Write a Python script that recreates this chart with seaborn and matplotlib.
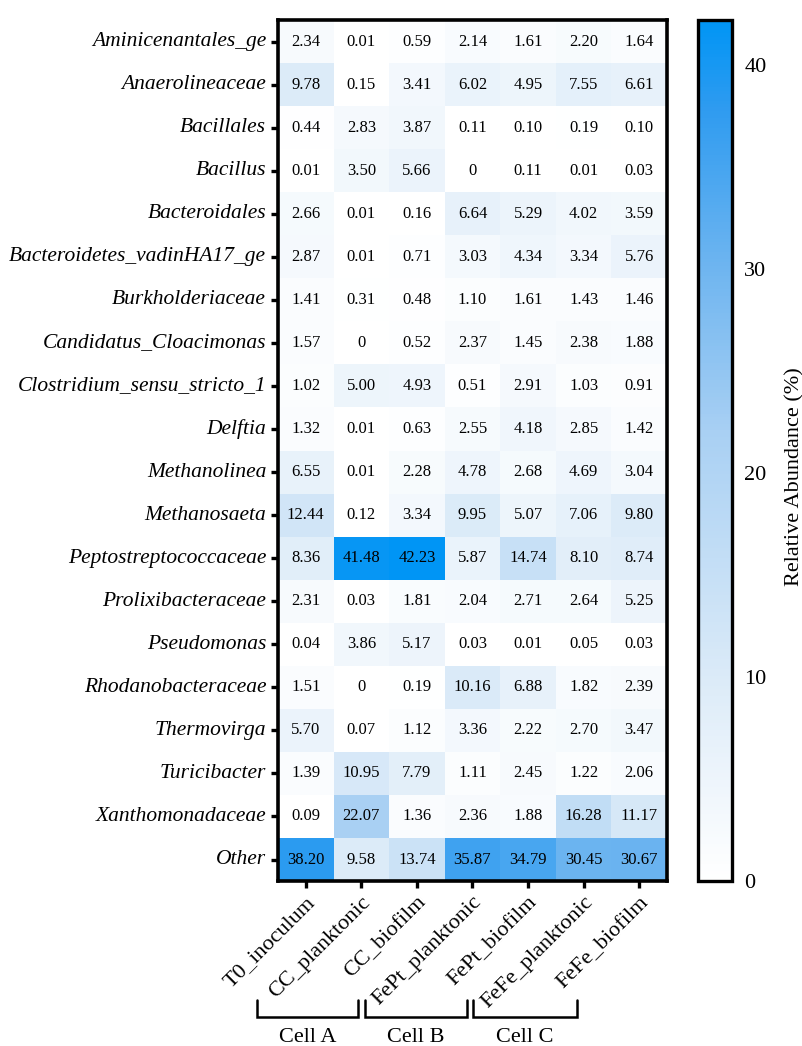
import numpy as np
import pandas as pd
import matplotlib
matplotlib.use("Agg")
import matplotlib.pyplot as plt
import matplotlib.transforms as mtransforms
from matplotlib.colors import LinearSegmentedColormap
import seaborn as sns

taxa = [
    "Aminicenantales_ge", "Anaerolineaceae", "Bacillales", "Bacillus",
    "Bacteroidales", "Bacteroidetes_vadinHA17_ge", "Burkholderiaceae",
    "Candidatus_Cloacimonas", "Clostridium_sensu_stricto_1", "Delftia",
    "Methanolinea", "Methanosaeta", "Peptostreptococcaceae",
    "Prolixibacteraceae", "Pseudomonas", "Rhodanobacteraceae",
    "Thermovirga", "Turicibacter", "Xanthomonadaceae", "Other",
]
samples = [
    "T0_inoculum", "CC_planktonic", "CC_biofilm", "FePt_planktonic",
    "FePt_biofilm", "FeFe_planktonic", "FeFe_biofilm",
]

t0_inoculum = [2.34, 9.78, 0.44, 0.01, 2.66, 2.87, 1.41, 1.57, 1.02, 1.32,
               6.55, 12.44, 8.36, 2.31, 0.04, 1.51, 5.70, 1.39, 0.09, 38.20]
cc_planktonic = [0.01, 0.15, 2.83, 3.50, 0.01, 0.01, 0.31, 0, 5.00, 0.01,
                 0.01, 0.12, 41.48, 0.03, 3.86, 0, 0.07, 10.95, 22.07, 9.58]
cc_biofilm = [0.59, 3.41, 3.87, 5.66, 0.16, 0.71, 0.48, 0.52, 4.93, 0.63,
              2.28, 3.34, 42.23, 1.81, 5.17, 0.19, 1.12, 7.79, 1.36, 13.74]
fept_planktonic = [2.14, 6.02, 0.11, 0, 6.64, 3.03, 1.10, 2.37, 0.51, 2.55,
                   4.78, 9.95, 5.87, 2.04, 0.03, 10.16, 3.36, 1.11, 2.36, 35.87]
fept_biofilm = [1.61, 4.95, 0.10, 0.11, 5.29, 4.34, 1.61, 1.45, 2.91, 4.18,
                2.68, 5.07, 14.74, 2.71, 0.01, 6.88, 2.22, 2.45, 1.88, 34.79]
fefe_planktonic = [2.20, 7.55, 0.19, 0.01, 4.02, 3.34, 1.43, 2.38, 1.03, 2.85,
                   4.69, 7.06, 8.10, 2.64, 0.05, 1.82, 2.70, 1.22, 16.28, 30.45]
fefe_biofilm = [1.64, 6.61, 0.10, 0.03, 3.59, 5.76, 1.46, 1.88, 0.91, 1.42,
                3.04, 9.80, 8.74, 5.25, 0.03, 2.39, 3.47, 2.06, 11.17, 30.67]

cell_groups = ["Cell A", "Cell B", "Cell C"]

df = pd.DataFrame(
    np.column_stack([t0_inoculum, cc_planktonic, cc_biofilm, fept_planktonic,
                     fept_biofilm, fefe_planktonic, fefe_biofilm]),
    index=taxa, columns=samples,
)
labels = df.map(lambda v: "0" if v == 0 else f"{v:.2f}")

sns.set_theme(style="white")
plt.rcParams["font.family"] = ["Liberation Serif", "DejaVu Serif"]
plt.rcParams["text.color"] = "black"
plt.rcParams["xtick.color"] = "black"
plt.rcParams["ytick.color"] = "black"
plt.rcParams["axes.labelcolor"] = "black"

# white-to-blue scale, lighter through the middle range
cmap = LinearSegmentedColormap.from_list(
    "abund",
    [(0.0, "#FFFFFF"), (0.23, "#DCEBF8"), (0.52, "#A9D0F3"),
     (0.72, "#6CB4F0"), (0.90, "#2E9BF0"), (1.0, "#0095F5")],
)

fig = plt.figure(figsize=(8.02, 10.46), dpi=100)
ax = fig.add_axes([0.3466, 0.1577, 0.4851, 0.8232])
cax = fig.add_axes([0.870, 0.1577, 0.0424, 0.8232])

sns.heatmap(
    df, ax=ax, cbar_ax=cax, cmap=cmap, vmin=0, vmax=df.values.max(),
    annot=labels.values, fmt="",
    annot_kws={"fontsize": 12, "color": "black"},
    cbar_kws={"ticks": [0, 10, 20, 30, 40]},
)

# thick frame around the grid
for side in ax.spines.values():
    side.set_visible(True)
    side.set_linewidth(2.6)
    side.set_color("black")

ax.tick_params(axis="both", direction="out", length=5, width=2.4,
               color="black", bottom=True, left=True)
ax.set_yticklabels(taxa, rotation=0, fontsize=15.5, style="italic")
ax.set_xticklabels(samples, rotation=45, ha="right", rotation_mode="anchor",
                   fontsize=16)
ax.set_xlabel("")
ax.set_ylabel("")

# colour bar styling
cbar = ax.collections[0].colorbar
cbar.outline.set_linewidth(2.4)
cbar.outline.set_edgecolor("black")
cax.tick_params(direction="in", left=True, right=True, length=4, width=2,
                color="black", labelsize=16, pad=9)
cbar.set_label("Relative Abundance (%)", fontsize=16)
cax.yaxis.set_label_coords(2.56, 0.47)

# brackets grouping the samples into cells
trans = mtransforms.blended_transform_factory(ax.transData, fig.transFigure)
spans = [(-0.38, 1.44), (1.56, 3.40), (3.51, 5.38)]
y_top, y_bot, y_txt = 0.0440, 0.0277, 0.0085
for name, (x0, x1) in zip(cell_groups, spans):
    ax.plot([x0, x0, x1, x1], [y_top, y_bot, y_bot, y_top], transform=trans,
            color="black", lw=1.8, clip_on=False, solid_joinstyle="miter")
    ax.text((x0 + x1) / 2, y_txt, name, transform=trans, ha="center",
            va="center", fontsize=16)

fig.savefig("out.png", dpi=100)
